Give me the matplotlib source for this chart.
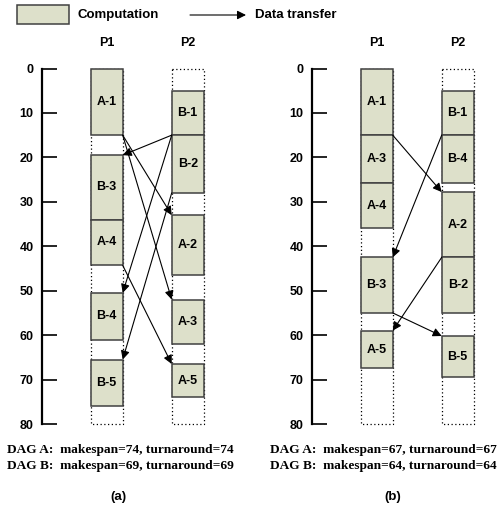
import matplotlib
matplotlib.use("Agg")
import matplotlib.pyplot as plt
from matplotlib.patches import Rectangle, FancyArrowPatch

plt.rcParams['font.family'] = ['Liberation Sans', 'DejaVu Sans']
plt.rcParams['font.weight'] = 'bold'

# schedule (a)
a_p1_names = ['A-1', 'B-3', 'A-4', 'B-4', 'B-5']
a_p1_start = [0, 19.5, 34, 50.5, 65.5]
a_p1_end = [15, 34, 44.3, 61, 76]
a_p2_names = ['B-1', 'B-2', 'A-2', 'A-3', 'A-5']
a_p2_start = [5, 15, 33, 52, 66.5]
a_p2_end = [15, 28, 46.5, 62, 74]
a_edges = [('B-1', 'B-3'), ('A-1', 'A-2'), ('A-1', 'A-3'),
           ('B-1', 'B-4'), ('B-2', 'B-5'), ('A-4', 'A-5')]
a_caption = ["DAG A:  makespan=74, turnaround=74",
             "DAG B:  makespan=69, turnaround=69"]

# schedule (b)
b_p1_names = ['A-1', 'A-3', 'A-4', 'B-3', 'A-5']
b_p1_start = [0, 15, 25.7, 42.5, 59]
b_p1_end = [15, 25.7, 36, 55, 67.5]
b_p2_names = ['B-1', 'B-4', 'A-2', 'B-2', 'B-5']
b_p2_start = [5, 15, 27.8, 42.5, 60.2]
b_p2_end = [15, 25.7, 42.5, 55, 69.5]
b_edges = [('A-1', 'A-2'), ('B-1', 'B-3'), ('A-2', 'A-5'), ('B-3', 'B-5')]
b_caption = ["DAG A:  makespan=67, turnaround=67",
             "DAG B:  makespan=64, turnaround=64"]

yticks = [0, 10, 20, 30, 40, 50, 60, 70, 80]
fill = '#dde0ca'
W, H = 501, 508
col_x = [48.7, 129.7]   # left edge of P1 / P2 column
col_w = 32

fig = plt.figure(figsize=(W / 100, H / 100), dpi=100)


def draw_panel(left, p1, p2, edges, caption, tag, cap_x, tag_x):
    ax = fig.add_axes([left / W, (H - 424) / H, 200 / W, (424 - 68.5) / H])
    ax.set_xlim(0, 200)
    ax.set_ylim(80, 0)
    for s in ['top', 'right', 'bottom']:
        ax.spines[s].set_visible(False)
    ax.spines['left'].set_linewidth(1.6)
    ax.set_xticks([])
    ax.set_yticks(yticks)
    ax.tick_params(axis='y', direction='in', length=10.5, width=1.2,
                   pad=6, labelsize=9)
    for lab in ax.get_yticklabels():
        lab.set_fontweight('bold')

    pos = {}
    for c, (names, st, en) in enumerate([p1, p2]):
        x0 = col_x[c]
        ax.add_patch(Rectangle((x0, 0), col_w, 80, fill=False, ls=(0, (1, 2)),
                               lw=0.9, ec='black', clip_on=False))
        ax.text(x0 + col_w / 2, -5.8, 'P%d' % (c + 1), ha='center', va='center',
                fontsize=9, fontweight='bold', clip_on=False)
        for n, s, e in zip(names, st, en):
            ax.add_patch(Rectangle((x0, s), col_w, e - s, fc=fill, ec='#404040',
                                   lw=1.1, clip_on=False, zorder=2))
            ax.text(x0 + col_w / 2, (s + e) / 2, n, ha='center', va='center',
                    fontsize=9, fontweight='bold', zorder=3)
            pos[n] = (c, s, e)

    for src, dst in edges:
        cs, _, es = pos[src]
        cd, sd, _ = pos[dst]
        xs = col_x[cs] + (col_w if cs == 0 else 0)
        xd = col_x[cd] + (col_w if cd == 0 else 0)
        ax.add_patch(FancyArrowPatch((xs, es), (xd, sd), arrowstyle='-|>',
                                     mutation_scale=13, lw=0.8, color='black',
                                     shrinkA=0, shrinkB=0, zorder=4,
                                     clip_on=False))

    fig.text(cap_x / W, 1 - 450 / H, caption[0], ha='center', va='center',
             family='Liberation Serif', fontweight='bold', fontsize=9.6)
    fig.text(cap_x / W, 1 - 466 / H, caption[1], ha='center', va='center',
             family='Liberation Serif', fontweight='bold', fontsize=9.6)
    fig.text(tag_x / W, 1 - 497 / H, tag, ha='center', va='center',
             fontweight='bold', fontsize=9.5)


draw_panel(42, (a_p1_names, a_p1_start, a_p1_end),
           (a_p2_names, a_p2_start, a_p2_end), a_edges, a_caption, '(a)',
           120, 118)
draw_panel(312, (b_p1_names, b_p1_start, b_p1_end),
           (b_p2_names, b_p2_start, b_p2_end), b_edges, b_caption, '(b)',
           383, 393)

# legend
fig.add_artist(Rectangle((16.7 / W, 1 - 24 / H), 52.6 / W, 19 / H,
                         transform=fig.transFigure, fc=fill, ec='#404040', lw=1.1))
fig.text(77.7 / W, 1 - 15 / H, 'Computation', ha='left', va='center',
         fontweight='bold', fontsize=9.5)
fig.add_artist(FancyArrowPatch((190 / W, 1 - 15 / H), (246 / W, 1 - 15 / H),
                               transform=fig.transFigure, arrowstyle='-|>',
                               mutation_scale=13, lw=0.8, color='black',
                               shrinkA=0, shrinkB=0))
fig.text(255 / W, 1 - 15 / H, 'Data transfer', ha='left', va='center',
         fontweight='bold', fontsize=9.5)

fig.savefig('out.png', dpi=100)
